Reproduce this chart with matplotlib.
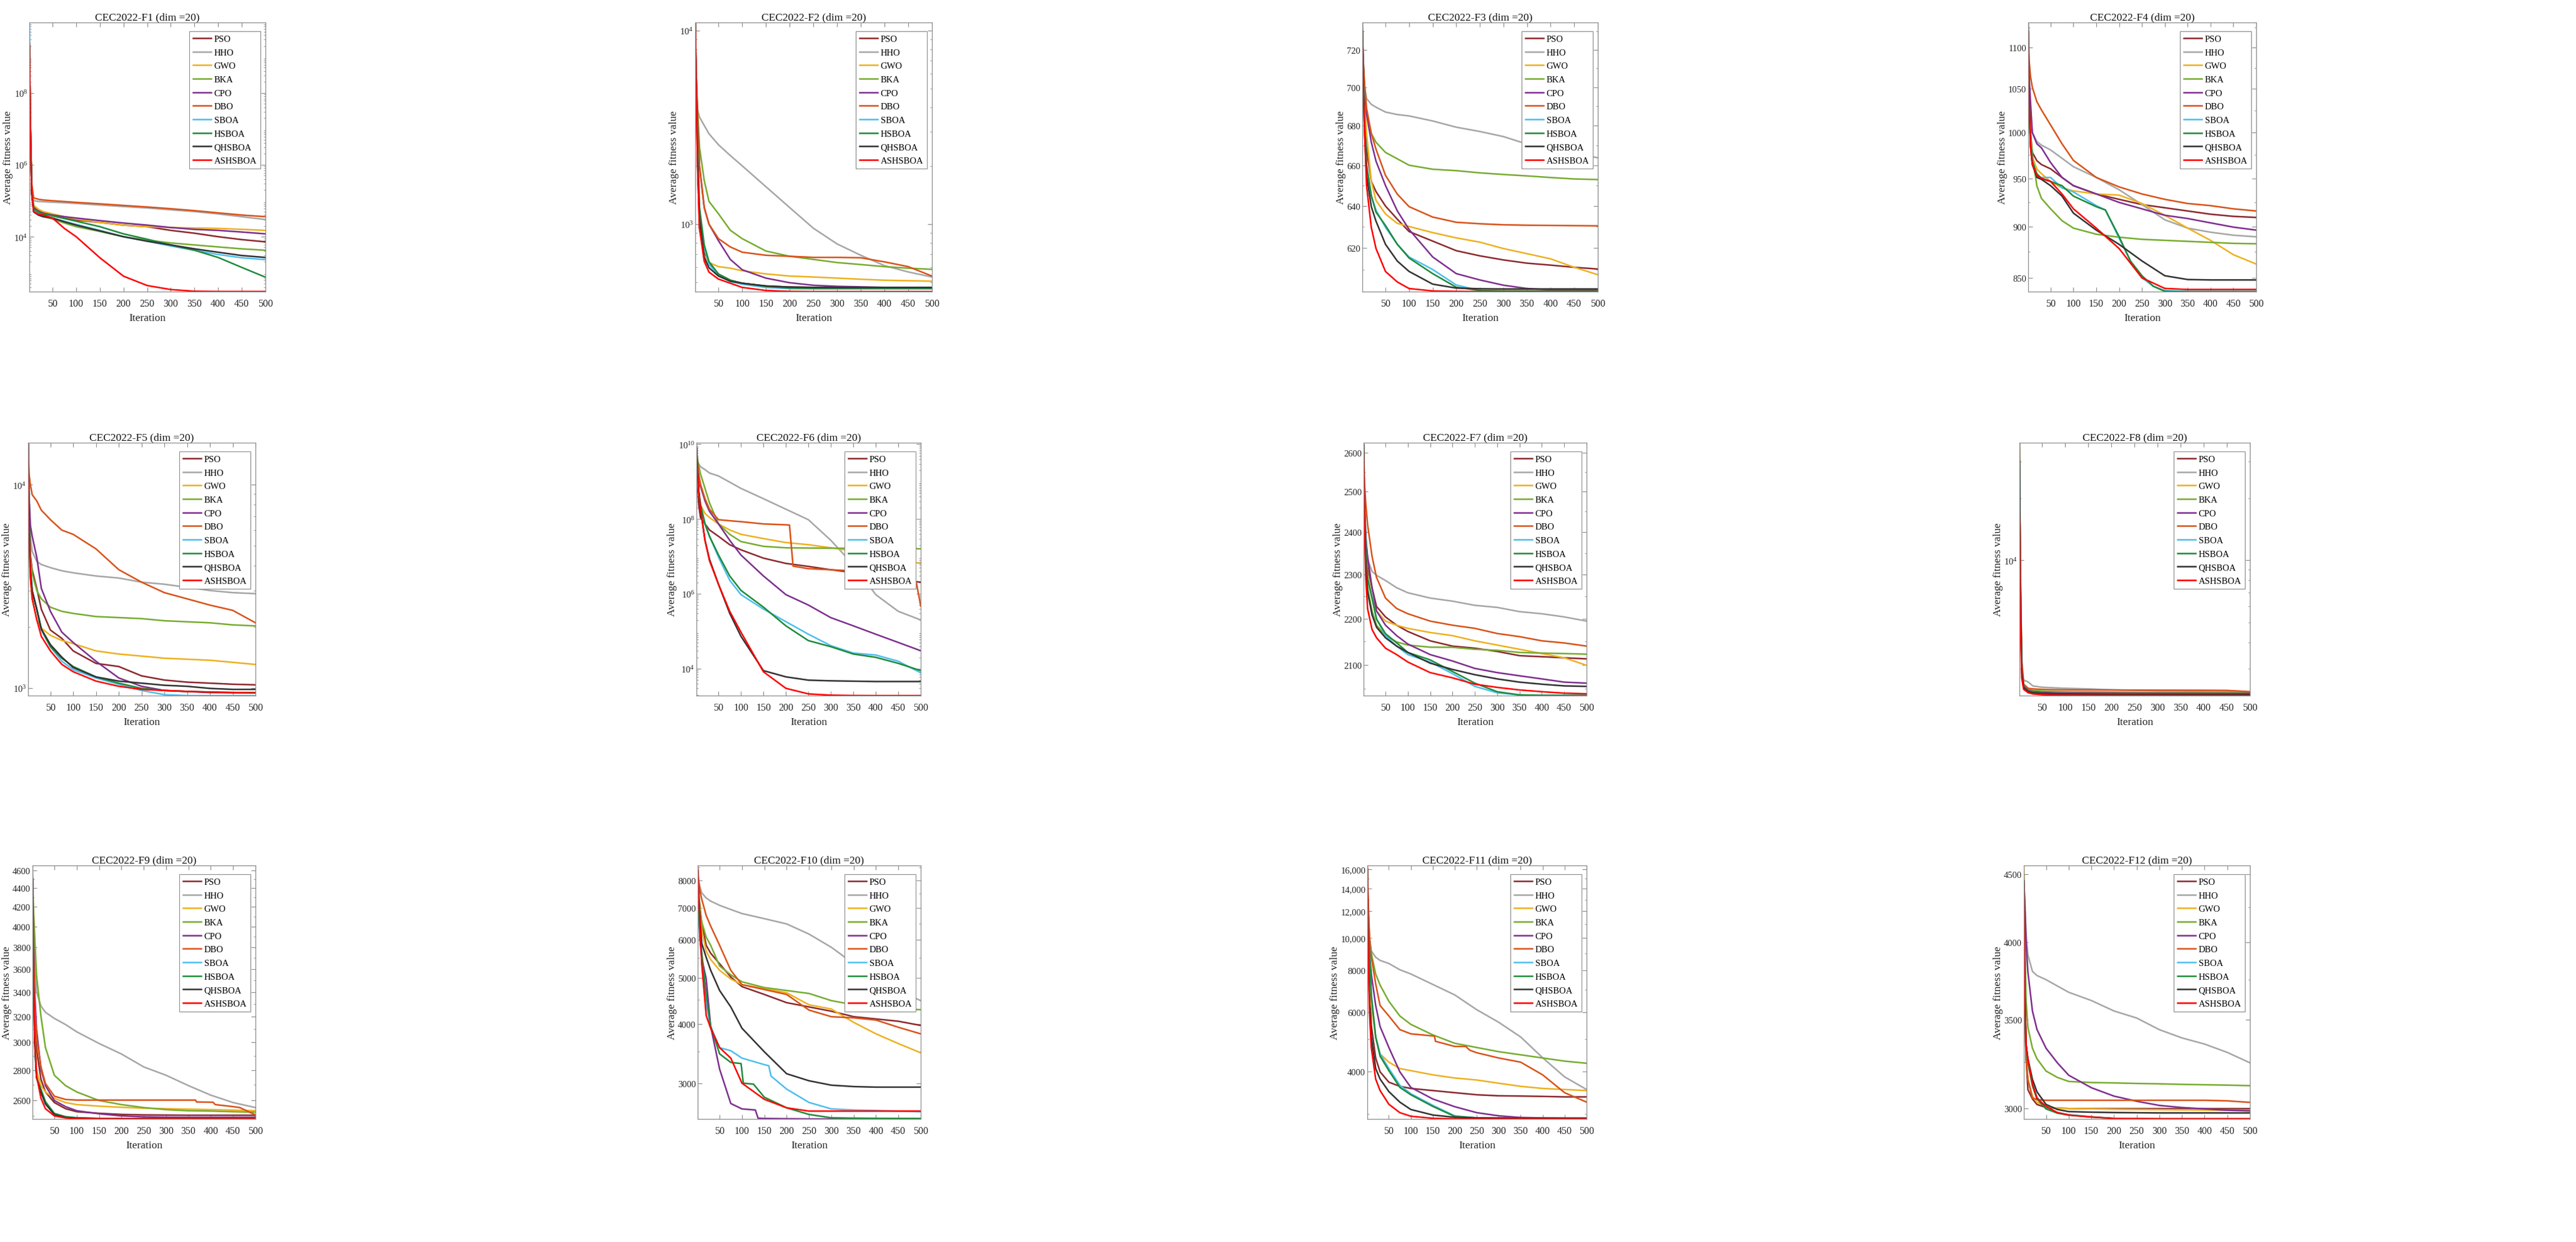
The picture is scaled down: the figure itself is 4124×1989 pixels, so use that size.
import matplotlib
matplotlib.use("Agg")
import matplotlib.pyplot as plt
from matplotlib.ticker import (FixedLocator, FuncFormatter, LogFormatterMathtext,
                               LogLocator, NullFormatter)

plt.rcParams['font.family'] = ['Liberation Serif', 'DejaVu Serif']
plt.rcParams['mathtext.fontset'] = 'custom'
plt.rcParams['mathtext.rm'] = 'Liberation Serif'
plt.rcParams['mathtext.it'] = 'Liberation Serif:italic'
plt.rcParams['mathtext.bf'] = 'Liberation Serif:bold'

# ---------------------------------------------------------------- data
ALGOS = ['PSO', 'HHO', 'GWO', 'BKA', 'CPO', 'DBO', 'SBOA', 'HSBOA', 'QHSBOA', 'ASHSBOA']
COLORS = ['#8B2A2E', '#A6A6A6', '#EDB120', '#77AC30', '#7E2F8E',
          '#D95319', '#4DBEEE', '#1E8B3A', '#333333', '#FF0000']

ITER = [1, 3, 6, 10, 20, 30, 50, 75, 100, 150, 200, 250, 300, 350, 400, 450, 500]

F1 = {
    'PSO': [2e9, 1.5e7, 1.8e5, 7e4, 5.5e4, 4.8e4, 3.8e4, 3.3e4, 2.9e4, 2.5e4, 2.1e4, 1.9e4, 1.5e4, 1.25e4, 1.0e4, 8.3e3, 7.2e3],
    'HHO': [2e9, 1.5e7, 2e5, 1.0e5, 9.6e4, 9.4e4, 9.1e4, 8.8e4, 8.4e4, 7.6e4, 6.9e4, 6.3e4, 5.6e4, 5.0e4, 4.3e4, 3.6e4, 3.0e4],
    'GWO': [2e9, 1.5e7, 1.8e5, 7.5e4, 5.8e4, 5.0e4, 4.3e4, 3.6e4, 3.1e4, 2.5e4, 2.1e4, 1.9e4, 1.8e4, 1.75e4, 1.7e4, 1.6e4, 1.5e4],
    'BKA': [2e9, 1.5e7, 1.6e5, 5.6e4, 4.2e4, 3.7e4, 3.1e4, 2.4e4, 1.9e4, 1.4e4, 1.0e4, 8.0e3, 6.7e3, 5.9e3, 5.2e3, 4.6e3, 4.2e3],
    'CPO': [2e9, 1.5e7, 1.7e5, 6.4e4, 5.0e4, 4.5e4, 4.0e4, 3.6e4, 3.3e4, 2.8e4, 2.4e4, 2.1e4, 1.8e4, 1.6e4, 1.5e4, 1.35e4, 1.2e4],
    'DBO': [2.5e9, 2e7, 3e5, 1.2e5, 1.1e5, 1.05e5, 1.0e5, 9.5e4, 9.0e4, 8.2e4, 7.4e4, 6.7e4, 6.0e4, 5.3e4, 4.6e4, 4.0e4, 3.6e4],
    'SBOA': [8.7e9, 1.5e7, 1.6e5, 5.6e4, 4.5e4, 4.0e4, 3.3e4, 2.7e4, 2.2e4, 1.5e4, 1.0e4, 7.5e3, 5.5e3, 4.2e3, 3.2e3, 2.6e3, 2.3e3],
    'HSBOA': [2e9, 1.5e7, 1.7e5, 6e4, 4.8e4, 4.3e4, 3.8e4, 3.2e4, 2.7e4, 1.9e4, 1.2e4, 8.5e3, 5.9e3, 4.2e3, 2.65e3, 1.4e3, 7.5e2],
    'QHSBOA': [2e9, 1.5e7, 1.5e5, 4.9e4, 4.0e4, 3.6e4, 3.3e4, 2.6e4, 2.1e4, 1.45e4, 1.0e4, 7.5e3, 5.9e3, 4.6e3, 3.7e3, 3.0e3, 2.65e3],
    'ASHSBOA': [2.3e9, 1.3e7, 1.6e5, 5.0e4, 4.2e4, 4.0e4, 3.3e4, 1.7e4, 1.0e4, 2.6e3, 8.0e2, 4.4e2, 3.4e2, 3.05e2, 3.0e2, 3.0e2, 3.0e2],
}

F2 = {
    'PSO': [11000, 5000, 2000, 952, 708, 626, 552, 513, 495, 479, 473, 471, 471, 471, 471, 471, 471],
    'HHO': [11000, 4400, 3890, 3570, 3232, 2929, 2570, 2259, 2000, 1560, 1218, 952, 790, 690, 610, 566, 533],
    'GWO': [11000, 5000, 2500, 1000, 690, 633, 603, 592, 574, 553, 539, 533, 526, 519, 513, 510, 507],
    'BKA': [11000, 6070, 3970, 2490, 1680, 1310, 1131, 929, 841, 726, 682, 657, 633, 618, 603, 592, 584],
    'CPO': [11000, 6000, 3500, 2000, 1218, 1000, 821, 657, 581, 526, 498, 483, 477, 474, 471, 471, 471],
    'DBO': [11000, 6000, 3530, 2000, 1218, 1000, 841, 762, 716, 690, 682, 673, 673, 670, 638, 603, 539],
    'SBOA': [11000, 5500, 2400, 1150, 760, 620, 545, 505, 489, 471, 464, 463, 463, 463, 463, 463, 463],
    'HSBOA': [11000, 5500, 2500, 1218, 781, 640, 552, 513, 495, 477, 468, 466, 466, 466, 466, 466, 466],
    'QHSBOA': [11000, 5000, 2200, 1077, 673, 595, 539, 507, 495, 479, 473, 471, 471, 471, 471, 471, 471],
    'ASHSBOA': [11000, 5000, 2000, 952, 643, 565, 520, 495, 471, 454, 449, 448, 448, 448, 448, 448, 448],
}

F3 = {
    'PSO': [730, 709, 687, 668, 652, 647, 640, 633.7, 627.8, 623.3, 618.8, 616.4, 614.5, 613, 612.1, 611.1, 610.3],
    'HHO': [730, 710, 700, 694, 691, 689.5, 687, 685.7, 685, 682.4, 679.2, 677, 674.4, 670.6, 669.5, 666, 663.7],
    'GWO': [730, 714, 692, 676, 652, 642.7, 636.2, 631.7, 630.2, 627.3, 624.8, 622.8, 619.8, 617.4, 615, 611.1, 607.7],
    'BKA': [730, 708, 698, 686, 676, 671.5, 666.4, 663.2, 660, 658, 657.3, 656.2, 655.4, 654.7, 653.9, 653.2, 652.9],
    'CPO': [730, 714, 696, 686, 671.6, 662, 650, 637.7, 628.8, 615.9, 608.2, 605.3, 602.9, 601.4, 600.8, 600.7, 600.7],
    'DBO': [730, 714, 701, 689, 676, 668, 655, 645.8, 639.7, 634.7, 632.2, 631.5, 631, 630.8, 630.7, 630.6, 630.5],
    'SBOA': [730, 705, 681, 660, 645, 638, 629.8, 621.8, 615.9, 610.1, 603, 600.5, 600.3, 600.3, 600.3, 600.3, 600.3],
    'HSBOA': [730, 705, 681, 660, 645, 637, 630.7, 621.8, 615.4, 608.2, 602, 600.5, 600.3, 600.3, 600.3, 600.3, 600.3],
    'QHSBOA': [735, 700, 675, 655, 639.7, 632.7, 621.8, 614, 609.2, 603.4, 601.6, 601.3, 601.2, 601.2, 601.2, 601.2, 601.2],
    'ASHSBOA': [730, 698, 676, 650, 629.8, 619.8, 609.2, 604.4, 601.4, 600.3, 600.1, 600, 600, 600, 600, 600, 600],
}

F4 = {
    'PSO': [1120, 1050, 1000, 978, 969, 964.8, 960.2, 951, 942.3, 933.6, 928, 922.6, 919.3, 916, 912.7, 910.5, 909.4],
    'HHO': [1120, 1060, 1020, 1000, 990, 986, 980.7, 971.6, 962.5, 951, 938, 922.6, 907, 898.6, 894.5, 891.5, 889.9],
    'GWO': [1120, 1040, 990, 973, 960, 955, 946.7, 940, 936.8, 933.6, 932.4, 923.7, 911.6, 898.6, 886.4, 872.3, 863.2],
    'BKA': [1110, 1040, 1000, 975, 942, 929, 918.2, 906.1, 898.6, 892.5, 889.5, 887.4, 886.4, 885.4, 884.4, 883.4, 883],
    'CPO': [1120, 1064, 1035, 1000, 987.5, 983, 967, 951, 942.3, 933.6, 924.8, 918.2, 911.6, 908.3, 903.9, 899.6, 896.6],
    'DBO': [1120, 1084, 1065, 1052, 1035, 1025.6, 1008.5, 987.5, 969.3, 951, 941, 933.6, 928, 923.7, 921.5, 918.2, 916],
    'SBOA': [1120, 1040, 990, 970, 953, 951, 951, 940, 935.7, 921.5, 917, 888.5, 866, 850, 842, 838, 837.2, 837.2, 837.2, 837.2],
    'HSBOA': [1120, 1040, 990, 968, 955, 950, 946.7, 942.3, 931.4, 920.4, 917, 890, 866, 852, 842, 837.2, 837, 837, 837, 837],
    'QHSBOA': [1131, 1040, 985, 965, 951, 949, 942.3, 931.4, 913.8, 896.6, 882.4, 866.2, 852, 848.4, 848, 848, 848],
    'ASHSBOA': [1119, 1040, 985, 965, 953, 950, 946.7, 933.6, 918.2, 898.6, 878.3, 850, 840, 839, 839, 839, 839],
}

F5 = {
    'PSO': [16000, 7000, 4500, 3800, 3090, 2440, 1927, 1754, 1522, 1321, 1275, 1147, 1094, 1068, 1056, 1043, 1036],
    'HHO': [16000, 8000, 5570, 4700, 4200, 4050, 3910, 3774, 3687, 3557, 3475, 3316, 3240, 3127, 3017, 2945, 2912],
    'GWO': [16000, 5000, 3475, 2745, 2168, 1970, 1816, 1713, 1653, 1522, 1469, 1435, 1401, 1385, 1369, 1337, 1305],
    'BKA': [16000, 9000, 4400, 3642, 3017, 2745, 2497, 2383, 2327, 2246, 2220, 2194, 2142, 2117, 2093, 2044, 2020],
    'CPO': [16000, 8900, 6300, 5570, 4400, 3090, 2383, 1882, 1673, 1353, 1120, 1019, 972, 961, 949, 949, 949],
    'DBO': [16000, 11300, 10000, 8930, 8320, 7500, 6730, 5980, 5700, 4835, 3820, 3316, 2945, 2745, 2557, 2410, 2093],
    'SBOA': [16000, 7000, 3800, 3000, 2440, 1927, 1595, 1353, 1231, 1120, 1043, 972, 927, 917, 917, 917, 917],
    'HSBOA': [16000, 7000, 3800, 3000, 2440, 1950, 1595, 1400, 1275, 1133, 1056, 995, 972, 961, 954, 949, 949],
    'QHSBOA': [16000, 7000, 3800, 3000, 2440, 1950, 1634, 1418, 1260, 1133, 1081, 1056, 1031, 1019, 995, 984, 984],
    'ASHSBOA': [16100, 6000, 3500, 2745, 2168, 1794, 1522, 1306, 1202, 1081, 1019, 984, 972, 961, 955, 949, 945],
}

F6 = {
    'PSO': [8e9, 8.5e8, 2.4e8, 1.1e8, 7.4e7, 5.1e7, 3.45e7, 2.06e7, 1.5e7, 9.0e6, 6.5e6, 5.4e6, 4.4e6, 3.7e6, 2.8e6, 2.33e6, 2.05e6],
    'HHO': [8e9, 3.5e9, 3.0e9, 2.5e9, 2.1e9, 1.7e9, 1.42e9, 9.7e8, 6.6e8, 3.5e8, 1.83e8, 9.6e7, 2.7e7, 6.0e6, 9.5e5, 3.4e5, 2.0e5],
    'GWO': [8e9, 1.6e9, 4.5e8, 2.4e8, 1.4e8, 1.1e8, 7.4e7, 5.1e7, 3.9e7, 3.0e7, 2.35e7, 2.06e7, 1.7e7, 1.4e7, 1.1e7, 8.4e6, 6.5e6],
    'BKA': [8e9, 4e9, 2.7e9, 1.6e9, 6.6e8, 2.7e8, 7.4e7, 3.9e7, 2.5e7, 1.86e7, 1.7e7, 1.68e7, 1.66e7, 1.65e7, 1.64e7, 1.62e7, 1.6e7],
    'CPO': [8e9, 2.7e9, 1.25e9, 7.5e8, 3.05e8, 1.6e8, 7.4e7, 2.7e7, 1.09e7, 3.0e6, 9.5e5, 5.0e5, 2.3e5, 1.39e5, 8.3e4, 5.0e4, 3.0e4],
    'DBO': [8e9, 3.1e9, 1.6e9, 8.5e8, 3.5e8, 1.83e8, 9.6e7, 9.0e7, 8.5e7, 7.4e7, 7.0e7, 6.9e7, 5.5e6, 4.7e6, 4.4e6, 4.1e6, 4.1e6, 3.4e6, 2.65e6, 2.1e6, 4.7e5],
    'SBOA': [8e9, 3.1e9, 5.8e8, 2.4e8, 7.4e7, 3.45e7, 9.6e6, 2.3e6, 9.5e5, 3.9e5, 1.8e5, 8.3e4, 4.1e4, 2.6e4, 2.3e4, 1.57e4, 7.7e3],
    'HSBOA': [8e9, 3.1e9, 5.8e8, 2.4e8, 7.4e7, 3.45e7, 1.1e7, 3.0e6, 1.23e6, 4.4e5, 1.39e5, 5.6e4, 3.85e4, 2.45e4, 2.0e4, 1.38e4, 8.8e3],
    'QHSBOA': [8e9, 2.5e9, 5.8e8, 1.83e8, 2.7e7, 8.4e6, 1.8e6, 3.0e5, 7.3e4, 8.8e3, 6.0e3, 4.9e3, 4.7e3, 4.6e3, 4.5e3, 4.5e3, 4.5e3],
    'ASHSBOA': [8.5e9, 2.5e9, 5.8e8, 1.9e8, 2.7e7, 7.7e6, 1.8e6, 3.4e5, 9.4e4, 8.2e3, 2.96e3, 2.1e3, 1.94e3, 1.9e3, 1.89e3, 1.89e3, 1.89e3],
}

F7 = {
    'PSO': [2620, 2469, 2392, 2317, 2269, 2227, 2203.8, 2185.5, 2171.8, 2151.4, 2140, 2135.5, 2128.6, 2119.5, 2117.3, 2115, 2112.7],
    'HHO': [2620, 2470, 2392, 2335, 2307, 2298, 2286, 2269.5, 2258, 2246, 2239, 2229.6, 2225, 2215.5, 2210.8, 2203.8, 2194.5],
    'GWO': [2620, 2443, 2367, 2302, 2246, 2217, 2194.5, 2185.5, 2178.6, 2169.5, 2162.7, 2151.4, 2142.3, 2133.2, 2124, 2115, 2099],
    'BKA': [2620, 2443, 2342, 2269, 2217, 2185.5, 2162.7, 2149, 2142.3, 2137.7, 2137.5, 2133.2, 2131, 2126.4, 2125, 2124, 2122.7],
    'CPO': [2620, 2460, 2380, 2342, 2269, 2217, 2185.5, 2162.7, 2144.5, 2121.8, 2108.2, 2092.5, 2083.7, 2077, 2070.5, 2063.8, 2061.7],
    'DBO': [2620, 2521, 2469, 2418, 2342, 2293, 2246, 2222.5, 2210.8, 2194.5, 2185.5, 2178.6, 2167.3, 2160.5, 2151.4, 2146.8, 2140],
    'SBOA': [2620, 2470, 2360, 2290, 2246, 2199, 2162.7, 2140, 2121.8, 2106, 2081.5, 2055, 2041.8, 2037.4, 2036.5, 2036.5, 2036.5],
    'HSBOA': [2620, 2470, 2360, 2290, 2246, 2199, 2167, 2147, 2126.4, 2110.5, 2086, 2061.7, 2044, 2037.4, 2036.5, 2036.5, 2036.5],
    'QHSBOA': [2626, 2443, 2317, 2260, 2208, 2181, 2158, 2140, 2126.4, 2103.6, 2090.3, 2079.3, 2070.5, 2063.8, 2059.5, 2056, 2055],
    'ASHSBOA': [2600, 2420, 2293, 2222, 2176, 2158, 2135.5, 2121.8, 2106, 2083.7, 2072.7, 2059.5, 2052.9, 2047.6, 2044, 2041, 2039.7],
}

F8 = {
    'PSO': [30000, 8000, 3000, 2500, 2360, 2340, 2320, 2310, 2305, 2300, 2295, 2290, 2288, 2286, 2285, 2284, 2283],
    'HHO': [30000, 9000, 3300, 2640, 2580, 2470, 2434, 2420, 2406, 2390, 2367, 2351, 2340, 2335, 2324, 2313, 2287],
    'GWO': [37000, 9000, 3000, 2480, 2360, 2340, 2325, 2315, 2310, 2305, 2300, 2295, 2290, 2288, 2285, 2283, 2280],
    'BKA': [30000, 8000, 3000, 2500, 2380, 2350, 2335, 2320, 2315, 2310, 2305, 2300, 2300, 2298, 2297, 2296, 2295],
    'CPO': [30000, 8000, 3000, 2480, 2350, 2320, 2300, 2290, 2285, 2280, 2278, 2276, 2275, 2274, 2273, 2272, 2271],
    'DBO': [30000, 9000, 3200, 2520, 2406, 2390, 2378, 2370, 2367, 2362, 2360, 2358, 2356, 2355, 2354, 2350, 2318],
    'SBOA': [30000, 7000, 2900, 2450, 2330, 2300, 2280, 2270, 2265, 2260, 2255, 2252, 2250, 2249, 2248, 2247, 2246],
    'HSBOA': [30000, 7000, 2900, 2450, 2330, 2300, 2280, 2268, 2262, 2255, 2250, 2248, 2246, 2245, 2244, 2243, 2242],
    'QHSBOA': [37000, 7000, 2900, 2430, 2320, 2290, 2275, 2265, 2260, 2255, 2252, 2250, 2249, 2248, 2247, 2246, 2245],
    'ASHSBOA': [15900, 5000, 2700, 2380, 2290, 2260, 2240, 2232, 2228, 2225, 2223, 2222, 2221, 2220, 2220, 2219, 2218],
}

F9 = {
    'PSO': [4500, 3800, 3200, 2950, 2737, 2653, 2584, 2545, 2526, 2516, 2509, 2506, 2505, 2504, 2504, 2504, 2504],
    'HHO': [4500, 4137, 3700, 3400, 3283, 3233, 3184, 3136, 3080, 2992, 2915, 2823, 2765, 2695, 2632, 2584, 2552],
    'GWO': [4650, 3800, 3100, 2800, 2695, 2653, 2611, 2584, 2571, 2561, 2554, 2548, 2545, 2542, 2539, 2536, 2532],
    'BKA': [4500, 4200, 3900, 3545, 3200, 2962, 2765, 2695, 2653, 2597, 2571, 2552, 2539, 2532, 2530, 2526, 2523],
    'CPO': [4500, 3900, 3400, 3100, 2807, 2695, 2597, 2558, 2532, 2513, 2500, 2494, 2492, 2491, 2491, 2491, 2491],
    'DBO': [4500, 3900, 3283, 3040, 2823, 2709, 2625, 2604, 2600, 2600, 2600, 2600, 2600, 2600, 2600, 2588, 2586, 2571, 2558, 2552, 2532, 2506],
    'SBOA': [4550, 3600, 3000, 2750, 2660, 2580, 2513, 2493, 2487, 2484, 2483, 2483, 2482, 2482, 2482, 2482, 2482],
    'HSBOA': [4500, 3600, 3000, 2750, 2670, 2590, 2515, 2495, 2488, 2484, 2483, 2483, 2482, 2482, 2482, 2482, 2482],
    'QHSBOA': [4500, 3600, 3000, 2750, 2650, 2575, 2508, 2490, 2486, 2483, 2482, 2482, 2482, 2482, 2482, 2482, 2482],
    'ASHSBOA': [4470, 3545, 3040, 2765, 2611, 2545, 2500, 2487, 2483, 2482, 2481.5, 2481, 2481, 2481, 2481, 2481, 2481],
}

F10 = {
    'PSO': [8400, 7600, 7000, 6500, 5845, 5625, 5348, 5017, 4790, 4612, 4433, 4343, 4254, 4143, 4098, 4053, 3972],
    'HHO': [8400, 7964, 7745, 7526, 7343, 7234, 7088, 6947, 6813, 6647, 6480, 6170, 5790, 5348, 4969, 4701, 4477],
    'GWO': [8400, 7600, 6900, 6300, 5680, 5459, 5182, 4969, 4835, 4746, 4650, 4388, 4299, 4031, 3814, 3639, 3481],
    'BKA': [8400, 7500, 7000, 6547, 6080, 5845, 5290, 5070, 4902, 4768, 4701, 4634, 4477, 4388, 4343, 4308, 4285],
    'CPO': [8400, 7000, 6000, 5500, 4969, 3954, 3218, 2726, 2656, 2642, 2540, 2536, 2533, 2531, 2530, 2530, 2530, 2530, 2530],
    'DBO': [8400, 8000, 7600, 7300, 6747, 6413, 5845, 5182, 4835, 4723, 4612, 4277, 4143, 4120, 4076, 3937, 3814],
    'SBOA': [8400, 7000, 6200, 5625, 4388, 3954, 3568, 3516, 3393, 3288, 3270, 3112, 2922, 2740, 2656, 2642, 2636, 2628, 2620],
    'HSBOA': [8400, 7000, 6200, 5625, 4612, 3954, 3463, 3323, 3305, 3007, 2992, 2922, 2810, 2670, 2586, 2544, 2540, 2538, 2537, 2536],
    'QHSBOA': [8400, 7400, 6700, 5900, 5514, 5182, 4701, 4343, 3919, 3498, 3147, 3042, 2978, 2958, 2950, 2950, 2950],
    'ASHSBOA': [8550, 7526, 6547, 5348, 4165, 3919, 3568, 3393, 3007, 2782, 2670, 2628, 2628, 2628, 2628, 2628, 2628],
}

F11 = {
    'PSO': [16000, 10000, 7000, 5500, 4393, 3996, 3722, 3618, 3566, 3515, 3464, 3415, 3391, 3385, 3377, 3366, 3366],
    'HHO': [16000, 12000, 10000, 9150, 8760, 8570, 8390, 8040, 7810, 7270, 6766, 6115, 5610, 5073, 4400, 3860, 3540],
    'GWO': [16000, 11000, 8000, 6300, 5073, 4521, 4269, 4087, 4029, 3914, 3831, 3778, 3696, 3618, 3566, 3540, 3515],
    'BKA': [16000, 12000, 10000, 9000, 7810, 7240, 6478, 5857, 5530, 5147, 4858, 4720, 4587, 4490, 4393, 4300, 4237],
    'CPO': [16000, 11000, 9000, 7810, 6295, 5450, 4720, 3996, 3592, 3318, 3147, 3021, 2956, 2922, 2914, 2908, 2906],
    'DBO': [16000, 13000, 10000, 8800, 7300, 6295, 5857, 5335, 5183, 5109, 5100, 4925, 4754, 4754, 4634, 4553, 4393, 4269, 3914, 3464, 3247],
    'SBOA': [16000, 11000, 9000, 6766, 5073, 4521, 4087, 3644, 3439, 3177, 2956, 2914, 2908, 2906, 2906, 2906, 2906],
    'HSBOA': [16000, 11000, 9000, 6766, 5073, 4450, 4029, 3592, 3415, 3154, 2944, 2914, 2908, 2906, 2906, 2906, 2906],
    'QHSBOA': [16000, 9000, 6500, 5073, 4087, 3804, 3490, 3247, 3087, 2973, 2926, 2914, 2910, 2908, 2907, 2906, 2906],
    'ASHSBOA': [16420, 9000, 6000, 4720, 3804, 3515, 3200, 3021, 2948, 2906, 2895, 2894, 2893, 2893, 2893, 2893, 2893],
}

F12 = {
    'PSO': [4450, 3600, 3270, 3100, 3050, 3021, 3005, 3002, 3000, 2999, 2999, 2999, 2999, 2999, 2999, 2999, 2999],
    'HHO': [4450, 4300, 4059, 3914, 3804, 3777, 3750, 3709, 3669, 3617, 3552, 3509, 3439, 3390, 3354, 3306, 3247],
    'GWO': [4570, 3700, 3300, 3155, 3065, 3032, 3011, 3002, 3000, 2998, 2996, 2995, 2994, 2993, 2992, 2991, 2990],
    'BKA': [4500, 4100, 3617, 3452, 3330, 3270, 3201, 3166, 3144, 3138, 3136, 3133, 3131, 3128, 3126, 3124, 3121],
    'CPO': [4450, 4300, 4000, 3800, 3552, 3440, 3330, 3247, 3178, 3110, 3065, 3038, 3016, 3005, 2998, 2991, 2987],
    'DBO': [4450, 3600, 3270, 3155, 3055, 3047, 3043, 3043, 3043, 3043, 3043, 3043, 3043, 3043, 3043, 3040, 3032],
    'SBOA': [4450, 3700, 3350, 3250, 3130, 3060, 3000, 2979, 2968, 2957, 2948, 2947, 2946, 2946, 2946, 2946, 2946],
    'HSBOA': [4450, 3700, 3350, 3250, 3120, 3050, 2998, 2976, 2966, 2956, 2948, 2947, 2946, 2946, 2946, 2946, 2946],
    'QHSBOA': [4450, 3700, 3350, 3270, 3155, 3088, 3021, 2995, 2984, 2981, 2979, 2978, 2977, 2977, 2977, 2977, 2977],
    'ASHSBOA': [4425, 3700, 3350, 3270, 3130, 3054, 3011, 2979, 2966, 2956, 2949, 2948, 2947, 2947, 2947, 2947, 2947],
}

# series that were read at their own iterations (steps in the curves)
SPECIAL_ITER = {
    ('F4', 'SBOA'): [1, 3, 6, 10, 20, 30, 50, 75, 100, 150, 170, 200, 225, 250, 275, 300, 350, 400, 450, 500],
    ('F4', 'HSBOA'): [1, 3, 6, 10, 20, 30, 50, 75, 100, 150, 170, 200, 225, 250, 275, 300, 350, 400, 450, 500],
    ('F6', 'DBO'): [1, 3, 6, 10, 20, 30, 50, 75, 100, 150, 200, 208, 216, 250, 300, 350, 400, 450, 480, 490, 500],
    ('F9', 'DBO'): [1, 3, 6, 10, 20, 30, 50, 75, 100, 150, 200, 250, 300, 350, 366, 368, 405, 410, 450, 465, 480, 500],
    ('F10', 'CPO'): [1, 3, 6, 10, 20, 30, 50, 75, 100, 130, 136, 150, 200, 250, 300, 350, 400, 450, 500],
    ('F10', 'SBOA'): [1, 3, 6, 10, 20, 30, 50, 75, 100, 150, 160, 165, 200, 250, 300, 350, 400, 450, 500],
    ('F10', 'HSBOA'): [1, 3, 6, 10, 20, 30, 50, 75, 98, 103, 126, 135, 150, 200, 250, 300, 350, 400, 450, 500],
    ('F11', 'DBO'): [1, 3, 6, 10, 20, 30, 50, 75, 100, 150, 154, 156, 200, 225, 234, 250, 300, 350, 400, 450, 500],
}

PANELS = ['F1', 'F2', 'F3', 'F4', 'F5', 'F6', 'F7', 'F8', 'F9', 'F10', 'F11', 'F12']
DATA = [F1, F2, F3, F4, F5, F6, F7, F8, F9, F10, F11, F12]

YLIMS = [(298, 9.0e9), (448, 1.1e4), (600, 735), (837, 1131), (917, 1.61e4), (1.89e3, 1.1e10),
         (2036, 2626), (2218, 3.7e4), (2480.8, 4654), (2530, 8590), (2893, 16420), (2946, 4570)]

YTICKS = [[1e4, 1e6, 1e8], [1e3, 1e4], [620, 640, 660, 680, 700, 720],
          [850, 900, 950, 1000, 1050, 1100], [1e3, 1e4], [1e4, 1e6, 1e8, 1e10],
          [2100, 2200, 2300, 2400, 2500, 2600], [1e4],
          [2600, 2800, 3000, 3200, 3400, 3600, 3800, 4000, 4200, 4400, 4600],
          [3000, 4000, 5000, 6000, 7000, 8000],
          [4000, 6000, 8000, 10000, 12000, 14000, 16000], [3000, 3500, 4000, 4500]]
POWER_LABELS = {'F1', 'F2', 'F5', 'F6', 'F8'}

# axes boxes in pixels: left, top, right, bottom
BOXES = [(47, 37, 425, 468), (1113, 37, 1492, 468), (2181, 37, 2558, 468), (3247, 37, 3612, 468),
         (45, 710, 409, 1115), (1115, 710, 1474, 1115), (2183, 710, 2540, 1115), (3233, 710, 3602, 1115),
         (52, 1387, 409, 1793), (1117, 1387, 1474, 1793), (2189, 1387, 2540, 1793), (3240, 1387, 3602, 1793)]

W, H = 4124, 1990
AXIS_GRAY = '#8c8c8c'
TEXT = '#262626'


def plain_label(v, pos):
    v = int(round(v))
    return f'{v:,}' if v >= 10000 else str(v)


fig = plt.figure(figsize=(W / 100, H / 100), dpi=100)

for i, name in enumerate(PANELS):
    l, t, r, b = BOXES[i]
    ax = fig.add_axes([l / W, 1 - b / H, (r - l) / W, (b - t) / H])
    series = DATA[i]
    for algo, color in zip(ALGOS, COLORS):
        xs = SPECIAL_ITER.get((name, algo), ITER)
        ax.plot(xs, series[algo], color=color, lw=1.8, label=algo)

    ax.set_yscale('log')
    ax.set_xlim(1, 500)
    ax.set_ylim(*YLIMS[i])
    ax.set_xticks(range(50, 501, 50))

    ticks = YTICKS[i]
    ax.yaxis.set_major_locator(FixedLocator(ticks))
    if name in POWER_LABELS:
        ax.yaxis.set_major_formatter(LogFormatterMathtext())
        ax.yaxis.set_minor_locator(LogLocator(base=10, subs=range(2, 10), numticks=200))
    else:
        ax.yaxis.set_major_formatter(FuncFormatter(plain_label))
        step = ticks[1] - ticks[0]
        lo, hi = YLIMS[i]
        minors = [ticks[0] - step / 2 + k * step for k in range(len(ticks) + 2)]
        ax.yaxis.set_minor_locator(FixedLocator([m for m in minors if lo < m < hi]))
    ax.yaxis.set_minor_formatter(NullFormatter())

    ax.tick_params(which='both', direction='in', top=True, right=True,
                   color=AXIS_GRAY, labelcolor=TEXT)
    ax.tick_params(which='major', length=5, width=0.8)
    ax.tick_params(which='minor', length=2.5, width=0.6)
    ax.tick_params(axis='x', labelsize=11.5, pad=8)
    ax.tick_params(axis='y', labelsize=10.5, pad=2)
    for sp in ax.spines.values():
        sp.set_color(AXIS_GRAY)
        sp.set_linewidth(0.9)

    ax.set_title(f'CEC2022-{name} (dim =20)', fontsize=12.5, color='#111111', pad=3)
    ax.set_xlabel('Iteration', fontsize=12.5, color=TEXT, labelpad=5)
    ax.set_ylabel('Average fitness value', fontsize=12.5, color=TEXT, labelpad=1)

    aw, ah = r - l, b - t
    leg = ax.legend(loc='upper right', bbox_to_anchor=(1 - 8 / aw, 1 - 14 / ah),
                    borderaxespad=0, fontsize=10.5, fancybox=False, framealpha=1,
                    edgecolor=AXIS_GRAY, handlelength=2.0, handletextpad=0.3,
                    labelspacing=0.58, borderpad=0.4)
    leg.get_frame().set_linewidth(0.8)

fig.savefig('out.png', dpi=100, facecolor='white')
